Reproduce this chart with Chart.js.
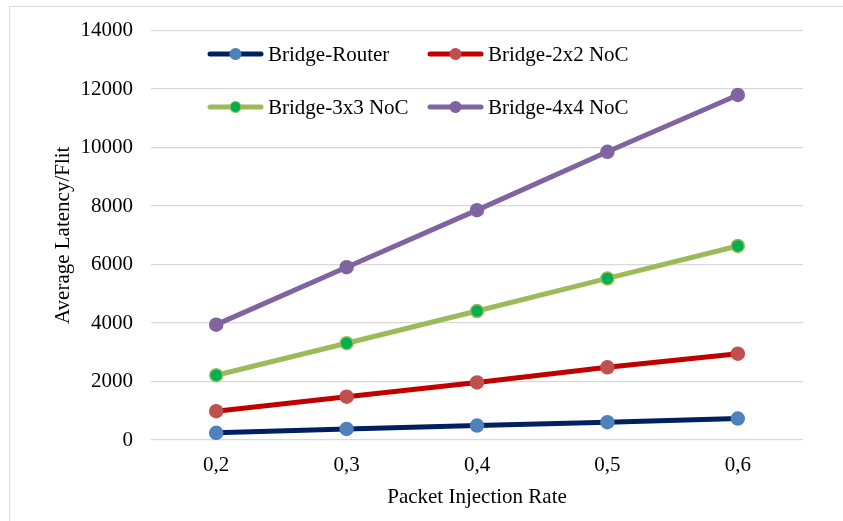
<!DOCTYPE html>
<html>
<head>
<meta charset="utf-8">
<script src="https://cdn.jsdelivr.net/npm/chart.js@4.4.1/dist/chart.umd.min.js"></script>
<style>
  html, body { margin: 0; padding: 0; background: #fff; }
  #wrap { width: 843px; height: 521px; position: relative; }
</style>
</head>
<body>
<div id="wrap"><canvas id="c" width="843" height="521"></canvas></div>
<script>
const categories = ["0,2", "0,3", "0,4", "0,5", "0,6"];
const seriesNames = ["Bridge-Router", "Bridge-2x2 NoC", "Bridge-3x3 NoC", "Bridge-4x4 NoC"];
const bridgeRouter = [245, 380, 495, 610, 735];
const bridge2x2 = [985, 1480, 1970, 2485, 2950];
const bridge3x3 = [2215, 3310, 4410, 5525, 6635];
const bridge4x4 = [3945, 5910, 7860, 9855, 11800];
const yTicks = [0, 2000, 4000, 6000, 8000, 10000, 12000, 14000];
const xTitle = "Packet Injection Rate";
const yTitle = "Average Latency/Flit";

const FONT = "'Liberation Serif', 'Times New Roman', serif";

const styles = [
  { line: "#002060", fill: "#4F81BD", border: "#4F81BD" },
  { line: "#C00000", fill: "#C0504D", border: "#C0504D" },
  { line: "#9BBB59", fill: "#00B050", border: "#9BBB59" },
  { line: "#8064A2", fill: "#8064A2", border: "#8064A2" }
];
const values = [bridgeRouter, bridge2x2, bridge3x3, bridge4x4];

const datasets = values.map((v, i) => ({
  label: seriesNames[i],
  data: v,
  borderColor: styles[i].line,
  backgroundColor: styles[i].fill,
  borderWidth: 5,
  pointRadius: 6.5,
  pointHoverRadius: 6.5,
  pointBackgroundColor: styles[i].fill,
  pointBorderColor: styles[i].border,
  pointBorderWidth: 1.5,
  tension: 0,
  fill: false
}));

const frame = {
  id: 'frame',
  beforeDraw(chart) {
    const ctx = chart.ctx;
    ctx.save();
    ctx.fillStyle = '#fff';
    ctx.fillRect(0, 0, chart.width, chart.height);
    ctx.strokeStyle = '#d9d9d9';
    ctx.lineWidth = 1;
    ctx.strokeRect(9.5, 6.5, 860, 540);
    ctx.restore();
  }
};

const legendPlugin = {
  id: 'customLegend',
  afterDraw(chart) {
    const ctx = chart.ctx;
    const pos = [
      { x: 208, y: 54 }, { x: 428, y: 54 },
      { x: 208, y: 107 }, { x: 428, y: 107 }
    ];
    ctx.save();
    chart.data.datasets.forEach((ds, i) => {
      const p = pos[i];
      ctx.strokeStyle = ds.borderColor;
      ctx.lineWidth = 5;
      ctx.lineCap = 'round';
      ctx.beginPath();
      ctx.moveTo(p.x + 2, p.y);
      ctx.lineTo(p.x + 53, p.y);
      ctx.stroke();
      ctx.beginPath();
      ctx.arc(p.x + 27.5, p.y, 5.5, 0, Math.PI * 2);
      ctx.fillStyle = ds.pointBackgroundColor;
      ctx.fill();
      ctx.lineWidth = 1.2;
      ctx.strokeStyle = ds.pointBorderColor;
      ctx.stroke();
      ctx.fillStyle = '#000';
      ctx.font = "21px " + FONT;
      ctx.textBaseline = 'middle';
      ctx.textAlign = 'left';
      ctx.fillText(ds.label, p.x + 60, p.y + 1);
    });
    ctx.restore();
  }
};

new Chart(document.getElementById('c'), {
  type: 'line',
  data: { labels: categories, datasets: datasets },
  plugins: [frame, legendPlugin],
  options: {
    responsive: false,
    animation: false,
    devicePixelRatio: 1,
    layout: { padding: { left: 0, right: 40, top: 30, bottom: 0 } },
    plugins: {
      legend: { display: false },
      tooltip: { enabled: false }
    },
    scales: {
      x: {
        type: 'category',
        offset: true,
        grid: { display: false, drawTicks: false },
        border: { display: false },
        ticks: { color: '#000', font: { family: FONT, size: 21 }, padding: 13, maxRotation: 0 },
        title: { display: true, text: xTitle, color: '#000', font: { family: FONT, size: 21 }, padding: { top: 0, bottom: 11 } },
        afterFit(scale) { scale.height = 81; }
      },
      y: {
        min: 0,
        max: 14000,
        afterBuildTicks(scale) { scale.ticks = yTicks.map(v => ({ value: v })); },
        grid: { color: '#d9d9d9', lineWidth: 1.3, drawTicks: false },
        border: { display: false },
        ticks: { color: '#000', font: { family: FONT, size: 21 }, padding: 18, callback: (v) => String(v) },
        title: { display: true, text: yTitle, color: '#000', font: { family: FONT, size: 21 }, padding: { top: 51, bottom: 0 } },
        afterFit(scale) { scale.width = 151; }
      }
    }
  }
});
</script>
</body>
</html>
